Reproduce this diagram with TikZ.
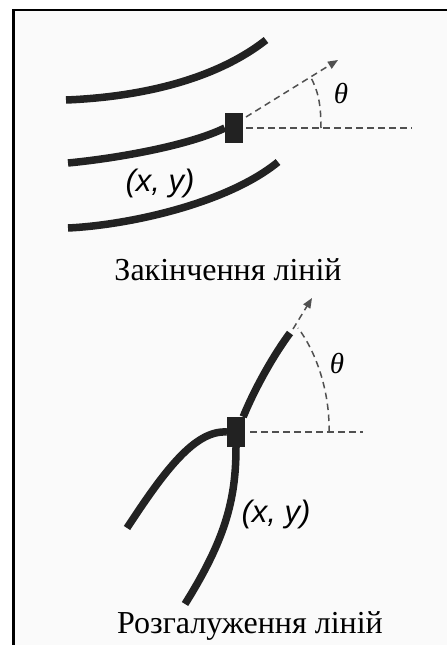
\documentclass[tikz,border=0pt]{standalone}
\usepackage{fontspec}
\setmainfont{Liberation Serif}
\newfontfamily\sansf{Liberation Sans}
\usetikzlibrary{arrows.meta}
\definecolor{bg}{HTML}{FAFAFA}
\definecolor{ink}{HTML}{222222}
\definecolor{dashc}{HTML}{505050}
\tikzset{
  ridge/.style={draw=ink, line width=7.5pt, line cap=butt},
  guide/.style={draw=dashc, line width=1.5pt, dash pattern=on 6.5pt off 4.5pt},
  guidearrow/.style={guide, -{Triangle[length=10pt,width=8pt]}},
  minutia/.style={fill=ink, draw=none, minimum width=18pt, minimum height=30pt, inner sep=0pt},
  coordlabel/.style={font=\sansf\itshape\fontsize{31}{36}\selectfont, inner sep=0pt},
  anglelabel/.style={font=\itshape\fontsize{29}{32}\selectfont, inner sep=0pt},
  caption/.style={font=\fontsize{32}{36}\selectfont, inner sep=0pt, anchor=base}
}
\begin{document}
\begin{tikzpicture}[x=1pt,y=-1pt]
\useasboundingbox (0,0) rectangle (447,645);
% frame
\fill[bg] (13.5,10) rectangle (447,645);
\draw[black, line width=2.5pt] (13.5,645) -- (13.5,10) -- (447,10);

% ---- Ridge ending ----
\node[minutia] (e) at (234,128) {};
\coordinate (t1) at (66,100);
\coordinate (t2) at (266,40);
\coordinate (m1) at (68,163);
\coordinate (b1) at (68,228);
\coordinate (b2) at (278,162);
\draw[ridge] (t1) .. controls (140,97) and (215,80) .. (t2);
\draw[ridge] (m1) .. controls (120,158) and (190,145) .. (e.west);
\draw[ridge] (b1) .. controls (130,225) and (228,203) .. (b2);
\coordinate (eh) at (412,128);
\coordinate (ea0) at (246,117);
\coordinate (ea) at (338,60);
\coordinate (arcA) at (321,128);
\coordinate (arcB) at (310,76);
\draw[guide] (e.east) ++(3,0) -- (eh);
\draw[guidearrow] (ea0) -- (ea);
\draw[guide] (arcA) .. controls (321,104) and (318,90) .. (arcB);
\node[anglelabel] (th1) at (341,94) {θ};
\node[coordlabel] (xy1) at (160,183) {(x, y)};
\node[caption] (cap1) at (228,280) {Закінчення ліній};

% ---- Bifurcation ----
\node[minutia] (b) at (236,432) {};
\coordinate (u2) at (290,333);
\coordinate (l2) at (127,528);
\coordinate (d2) at (185,604);
\draw[ridge] ([xshift=-2pt]b.north east) .. controls (252,395) and (270,360) .. (u2);
\draw[ridge] (b.west) .. controls (195,430) and (165,470) .. (l2);
\draw[ridge] (b.south) .. controls (236,500) and (225,540) .. (d2);
\coordinate (ua0) at (293,329);
\coordinate (ua) at (312,298);
\coordinate (bh) at (363,432);
\coordinate (arcC) at (329,432);
\coordinate (arcD) at (298,328);
\draw[guidearrow] (ua0) -- (ua);
\draw[guide] (b.east) ++(5,0) -- (bh);
\draw[guide] (arcC) .. controls (330,390) and (315,350) .. (arcD);
\node[anglelabel] (th2) at (337,363) {θ};
\node[coordlabel] (xy2) at (276,514) {(x, y)};
\node[caption] (cap2) at (250,633) {Розгалуження ліній};
\end{tikzpicture}
\end{document}
